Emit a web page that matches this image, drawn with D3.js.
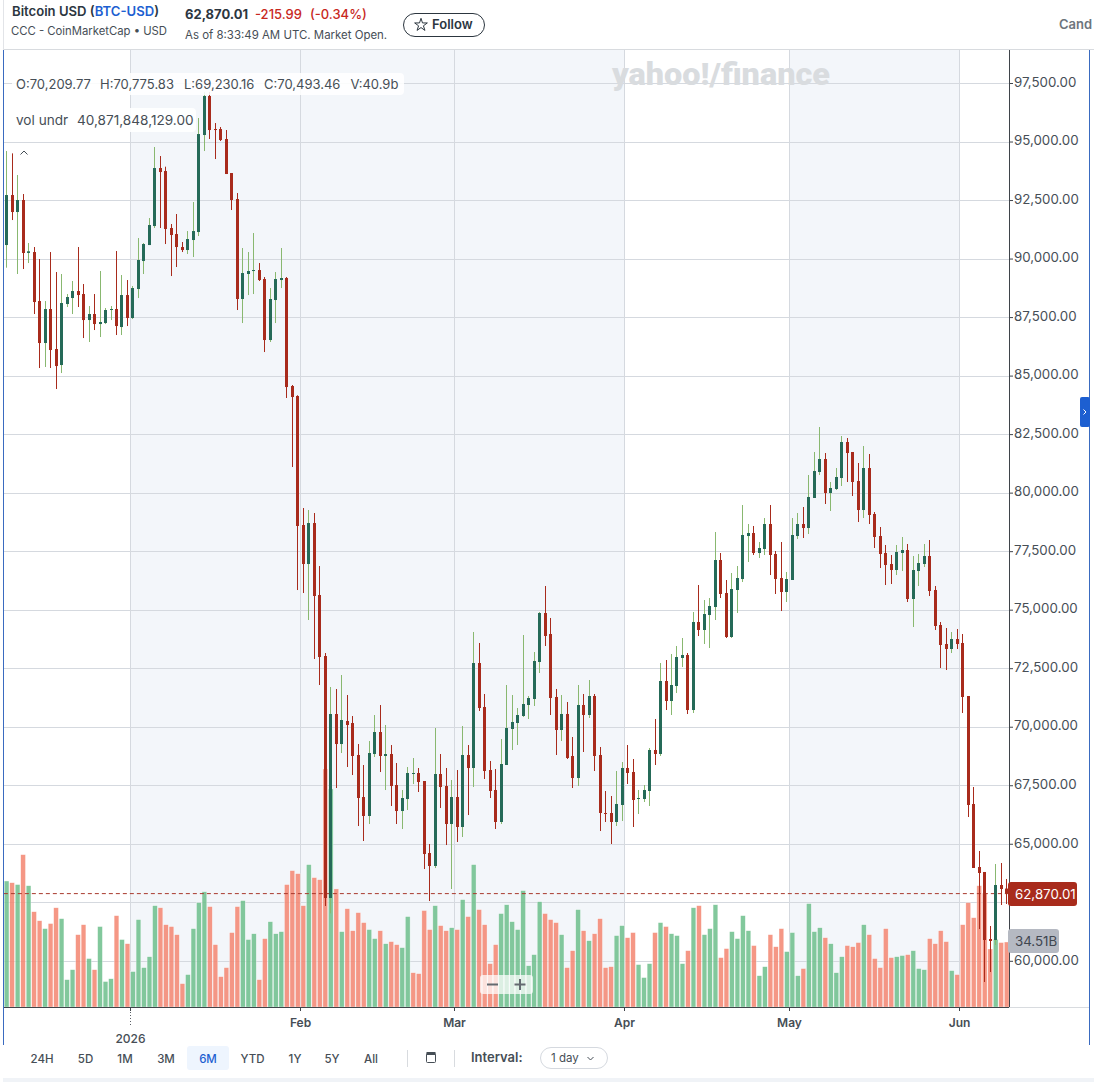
<!DOCTYPE html>
<html>
<head>
<meta charset="utf-8">
<title>Bitcoin USD (BTC-USD)</title>
<script src="https://cdn.jsdelivr.net/npm/d3@7"></script>
<style>
  html, body { margin: 0; padding: 0; background: #fff; }
  svg { display: block; }
  text { font-family: Inter, "Noto Sans", sans-serif; }
</style>
</head>
<body>
<div id="chart"></div>
<script>
// Daily BTC-USD sessions, 9 Dec 2025 to 9 Jun 2026. Prices in USD, volume in billions.
const startDay = "2025-12-09";
const endDay = "2026-06-10";

const opens = [
  90578,92714,91988,92501,90240,90279,88186,86392,87844,86136,
  85452,88058,88314,88613,88485,87374,87631,87203,87246,87816,
  87845,87075,88442,87460,88699,89895,90578,91390,93868,93740,
  91305,91048,90493,90365,90792,91134,95278,96944,95534,95534,
  95107,93654,92544,88272,89340,89468,89510,89126,86520,88229,
  89083,89169,84555,84128,78617,76951,78702,75627,73021,62683,
  70543,69261,70244,70158,68792,66997,66186,68834,69774,68749,
  68834,67510,66399,66912,67980,68023,67681,64605,64050,67980,
  67467,65844,66997,65716,68792,68236,72722,70843,68151,67297,
  65930,68365,69903,70159,70458,70928,71184,72765,74858,73961,
  71270,69860,70544,68749,67809,70928,70501,71312,68792,66314,
  66314,65930,66656,68237,68066,66912,66912,67254,69006,68835,
  71953,71099,71739,72936,73064,70714,74474,74132,74772,75114,
  77122,75712,73833,75841,76310,78147,78276,77421,77592,78660,
  77379,76353,75755,76268,78147,78660,78489,79771,80882,81437,
  79984,80155,80625,82163,81736,80497,79258,81052,79087,78147,
  77421,76951,76695,77421,77549,75456,76652,76951,77293,75841,
  74345,73534,73320,73747,73576,71312,66698,64007,63794,60931,
  60889,63238,63086
];
const closes = [
  92714,91988,92501,90237,90310,88143,86392,87844,86093,85409,
  88101,88357,88613,88442,87374,87631,87203,87289,87802,87845,
  87118,88442,87460,88741,89938,90621,91433,93868,93697,91262,
  91006,90493,90365,90835,91176,95320,96944,95491,95491,95064,
  93612,92501,88272,89382,89468,89510,89083,86520,88272,89126,
  89169,84512,84085,78575,76951,78702,75584,72978,62683,70543,
  69261,70287,70073,68749,66955,66186,68877,69774,68749,68834,
  67467,66399,66954,68023,68023,67638,64562,64050,67980,67424,
  65844,66997,65716,68792,68236,72722,70800,68108,67254,65930,
  68407,69945,70202,70501,70971,71227,72808,74858,73876,71227,
  69860,70544,68664,67809,70928,70501,71312,68749,66314,66272,
  65930,66699,68237,68023,66870,66955,67297,69006,68835,71953,
  71099,71782,72978,73064,70714,74474,74132,74815,75157,77122,
  75670,73833,75883,76353,78190,78276,77421,77635,78660,77336,
  76310,75755,76310,78190,78660,78489,79814,80924,81437,79984,
  80198,80668,82163,81693,80454,79258,81052,79045,78105,77379,
  76909,76695,77464,77549,75456,76695,76994,77293,75798,74303,
  73491,73320,73747,73534,71270,66656,63965,63751,60889,60846,
  63238,63068,62870.01
];
const highs = [
  94594,94494,93569,92757,90664,90493,89980,88186,90279,89425,
  89340,88485,89041,90493,88912,87972,88485,89468,87887,87972,
  90322,89297,89083,88827,90877,90664,91732,94765,94380,93925,
  91476,91903,90707,91176,92415,96004,97120,97120,95790,95619,
  95491,93654,92800,90450,90279,91091,89809,89211,88741,89425,
  90450,89211,84598,84160,79343,79258,79130,76865,73149,71696,
  71611,72209,71355,70457,69261,68364,69390,70500,70927,70073,
  69218,68450,67296,68279,68663,68236,67681,64989,69945,68834,
  68236,67724,68150,70030,69218,74047,73577,71398,68536,68194,
  69475,71782,71355,70800,73918,71312,73192,74901,76012,74645,
  71612,71355,71056,69561,71782,71398,71996,71398,69134,67254,
  67040,68108,68493,69219,68621,67297,67510,69091,70330,72722,
  72850,73106,73449,73790,73149,74901,76054,75413,75499,78318,
  77421,76268,76567,76866,79472,78660,78575,77891,78916,79472,
  77507,77891,76610,78916,79130,79386,80753,81736,82804,81693,
  80454,81052,82419,82334,81736,81266,81992,81650,79173,78532,
  77763,77336,77763,78105,77806,77293,77379,77806,77977,76012,
  74474,74217,74046,74174,73961,71312,67425,64691,63794,61487,
  64135,64178,63495
];
const lows = [
  89610,91646,89340,89553,89809,87631,85324,85367,85324,84427,
  85110,87930,87631,87930,86605,86435,86947,86648,87203,87374,
  86734,86734,87118,87417,88314,89340,90578,91305,91305,90621,
  89254,89639,90279,90194,90066,90963,94594,95107,94252,95021,
  93612,92074,87802,87246,88442,88485,89041,86007,86435,87246,
  88741,84043,81095,75840,75712,74559,72893,71782,62341,62027,
  67382,68877,68279,67937,65758,65118,65844,68706,68065,67296,
  66613,65844,65630,66442,67552,67211,63921,62554,63964,66527,
  64946,63067,65075,65289,66228,67425,70672,67767,66955,65631,
  65844,68365,69006,69219,70415,70330,70885,72295,73448,70501,
  68792,69390,68621,67382,67468,68920,70373,68108,65545,65930,
  64990,65759,65972,67553,65716,66272,66784,66613,68365,68750,
  70714,70501,71440,72551,70543,70586,73875,73534,73363,74559,
  75499,73790,73790,74858,76182,77037,77336,77208,77336,76481,
  75670,74943,75328,76268,78019,78062,78233,79771,80753,79515,
  79216,80113,80284,80454,79856,78745,78916,78660,77635,76780,
  76054,76097,76481,76652,75328,74260,76012,76823,75584,74132,
  72509,72423,73149,73320,70586,66143,63965,61358,59095,59521,
  60675,62384,62427
];
const volumes = [
  66.9,66.0,65.0,80.9,64.4,50.6,45.8,41.6,44.3,52.7,
  46.9,14.5,19.8,38.4,43.7,25.7,19.8,42.7,13.5,15.0,
  48.5,35.8,33.6,18.8,46.4,20.9,26.7,53.8,52.7,43.7,
  42.7,38.4,12.4,17.2,41.6,55.4,61.2,53.3,33.1,16.1,
  20.9,39.5,53.3,56.5,35.8,38.9,14.5,36.3,45.3,38.9,
  40.0,65.0,72.4,70.8,53.8,75.6,68.7,67.6,126.4,115.8,
  62.7,40.0,52.2,40.5,50.1,44.8,41.1,36.3,40.5,33.6,
  34.7,33.1,31.5,48.0,18.2,17.7,51.2,41.1,53.8,43.2,
  40.5,42.1,41.1,57.0,48.0,75.6,51.7,43.7,23.0,33.1,
  49.6,54.3,45.3,41.1,61.8,21.9,27.8,55.9,49.6,46.4,
  44.8,38.4,20.9,29.9,51.7,40.5,35.2,38.9,46.9,20.9,
  21.4,37.9,43.2,36.8,39.5,22.5,15.6,23.0,39.5,44.8,
  42.7,38.9,37.9,23.0,29.9,52.7,53.8,38.4,41.6,54.3,
  26.2,31.0,40.0,36.3,48.5,40.5,32.6,16.6,21.4,38.4,
  32.0,41.6,29.4,39.5,16.6,20.4,54.9,40.0,42.1,36.8,
  33.6,18.2,26.7,32.6,32.0,34.2,43.7,38.4,25.7,20.9,
  41.6,26.2,26.7,27.3,27.8,29.9,20.4,19.8,36.3,33.6,
  40.5,34.7,19.3,17.2,43.7,55.4,47.4,64.4,60.5,30.8,
  35.9,34.2,34.51
];
// Session whose volume bar prints down although its candle closed flat-to-up.
const downVolumeSessions = [74];

const priceTicks = d3.range(60000, 97501, 2500);
// The 62,500 tick sits under the last-price tag, so its text is left out.
const priceTickHidden = [62500];
const monthTicks = ["2026-01-01", "2026-02-01", "2026-03-01", "2026-04-01", "2026-05-01", "2026-06-01"];
const monthLabels = ["", "Feb", "Mar", "Apr", "May", "Jun"];
const shadedRanges = [["2026-01-01", "2026-04-01"], ["2026-05-01", "2026-06-01"]];
const rangeButtons = ["24H", "5D", "1M", "3M", "6M", "YTD", "1Y", "5Y", "All"];
const rangeButtonX = [42, 85.5, 125, 166, 208, 252.5, 295, 332, 371];

const lastPrice = closes[closes.length - 1];
const lastVolume = volumes[volumes.length - 1];
const fmt2 = d3.format(",.2f");

const W = 1094, H = 1082;
const plot = { left: 3.85, right: 1009.44, top: 50, bottom: 1007 };
const INK = "#464e56", GRID = "#d5d9df", RED = "#a82b1c", GREEN = "#256a58", WICK_UP = "#89b870";

const x = d3.scaleUtc()
  .domain([new Date(startDay), new Date(endDay)])
  .range([plot.left, plot.right]);
const y = d3.scaleLinear().domain([60000, 97500]).range([960.8, 83]);
const vol = d3.scaleLinear().domain([0, 126.4]).range([plot.bottom, 769]);

const days = d3.utcDay.range(new Date(startDay), new Date(endDay));
const candles = days.map((date, i) => ({
  i, date,
  open: opens[i], high: highs[i], low: lows[i], close: closes[i], volume: volumes[i],
  mid: x(d3.utcHour.offset(date, 12))
}));

const svg = d3.select("#chart").append("svg").attr("width", W).attr("height", H);
const snap = v => Math.round(v) + 0.5;
const monthX = d => Math.floor(x(new Date(d))) + 0.5;

function label(parent, txt, px, py, o = {}) {
  return parent.append("text").attr("x", px).attr("y", py)
    .attr("font-size", o.size || 12)
    .attr("font-weight", o.weight || 400)
    .attr("fill", o.fill || INK)
    .attr("text-anchor", o.anchor || "start")
    .text(txt);
}

// ---- plot background ----
const bg = svg.append("g");
bg.selectAll("rect.band").data(shadedRanges).join("rect")
  .attr("class", "band")
  .attr("x", d => monthX(d[0]))
  .attr("width", d => monthX(d[1]) - monthX(d[0]))
  .attr("y", plot.top).attr("height", plot.bottom - plot.top)
  .attr("fill", "#f3f6fa");

bg.selectAll("line.h").data(priceTicks).join("line")
  .attr("class", "h")
  .attr("x1", plot.left).attr("x2", plot.right)
  .attr("y1", d => snap(y(d))).attr("y2", d => snap(y(d)))
  .attr("stroke", GRID);
bg.selectAll("line.v").data(monthTicks).join("line")
  .attr("class", "v")
  .attr("x1", monthX).attr("x2", monthX)
  .attr("y1", plot.top).attr("y2", plot.bottom)
  .attr("stroke", GRID);

// ---- watermark ----
svg.append("text").attr("x", 612).attr("y", 85)
  .attr("font-size", 31).attr("font-weight", 900)
  .attr("textLength", 218).attr("lengthAdjust", "spacingAndGlyphs")
  .attr("fill", "#d9dcdf")
  .style("font-family", "Roboto, Inter, sans-serif")
  .text("yahoo!/finance");

// ---- volume bars ----
svg.append("g").selectAll("rect").data(candles).join("rect")
  .attr("x", d => d.mid - 2.35)
  .attr("width", 4.7)
  .attr("y", d => vol(d.volume))
  .attr("height", d => vol(0) - vol(d.volume))
  .attr("fill", d => (d.close >= d.open && !downVolumeSessions.includes(d.i)) ? "#6fc08d" : "#f38873")
  .attr("fill-opacity", 0.87)
  .attr("stroke", "#fff").attr("stroke-width", 0.5).attr("stroke-opacity", 0.6);

// ---- last price line ----
svg.append("line")
  .attr("x1", plot.left).attr("x2", plot.right)
  .attr("y1", y(lastPrice)).attr("y2", y(lastPrice))
  .attr("stroke", "#a8392c").attr("stroke-width", 1).attr("stroke-dasharray", "4 3");

// ---- candlesticks ----
const candleG = svg.append("g").selectAll("g").data(candles).join("g");
candleG.append("rect")
  .attr("x", d => Math.floor(d.mid))
  .attr("width", 1)
  .attr("y", d => y(d.high))
  .attr("height", d => y(d.low) - y(d.high))
  .attr("fill", d => d.close >= d.open ? WICK_UP : RED);
candleG.append("rect")
  .attr("x", d => Math.floor(d.mid) - 1)
  .attr("width", 3)
  .attr("y", d => y(Math.max(d.open, d.close)))
  .attr("height", d => Math.max(1, Math.abs(y(d.open) - y(d.close))))
  .attr("fill", d => d.close >= d.open ? GREEN : RED);

// ---- axes ----
const yAxis = d3.axisRight(y).tickValues(priceTicks).tickSize(4).tickPadding(1)
  .tickFormat(d => priceTickHidden.includes(d) ? "" : fmt2(d));
const yG = svg.append("g").attr("transform", `translate(${Math.round(plot.right)},0)`).call(yAxis);
yG.select(".domain").attr("d", `M0.5,${plot.top}V${plot.bottom + 0.5}`).attr("stroke", "#3f444a");
yG.selectAll(".tick line").attr("stroke", "#3f444a");
yG.selectAll(".tick text").attr("fill", INK).attr("font-size", 13.3).attr("y", -1)
  .attr("font-family", "Inter, sans-serif");

const xAxis = d3.axisBottom(x)
  .tickValues(monthTicks.map(d => new Date(d)))
  .tickSize(4).tickPadding(7)
  .tickFormat((d, i) => monthLabels[i]);
const xG = svg.append("g").attr("transform", `translate(0,${plot.bottom})`).call(xAxis);
xG.select(".domain").attr("d", `M${plot.left},0.5H${plot.right}`).attr("stroke", "#3f444a");
xG.selectAll(".tick").attr("transform", (d, i) => `translate(${monthX(monthTicks[i])},0)`);
xG.selectAll(".tick line").attr("stroke", "#3f444a");
xG.selectAll(".tick text").attr("fill", INK).attr("font-size", 12).attr("font-weight", 600)
  .attr("font-family", "Inter, sans-serif");

// Year marker hangs below the January tick on a dotted leader.
const janX = monthX(monthTicks[0]);
svg.append("line").attr("x1", janX).attr("x2", janX).attr("y1", 1012).attr("y2", 1027)
  .attr("stroke", "#5b6168").attr("stroke-dasharray", "1 2");
label(svg, "2026", janX, 1043, { anchor: "middle", size: 12, weight: 500 });

// ---- frame ----
svg.append("line").attr("x1", 3).attr("x2", W).attr("y1", 49.5).attr("y2", 49.5).attr("stroke", "#d8dbdf");
svg.append("line").attr("x1", 3.5).attr("x2", 3.5).attr("y1", 0).attr("y2", 50).attr("stroke", "#e2e4e8");
svg.append("line").attr("x1", 3.5).attr("x2", 3.5).attr("y1", 50).attr("y2", 1045).attr("stroke", "#3a6bc0");
svg.append("line").attr("x1", 1089.5).attr("x2", 1089.5).attr("y1", 50).attr("y2", 1045).attr("stroke", "#3a6bc0");
svg.append("line").attr("x1", 1009).attr("x2", 1089).attr("y1", 1007.5).attr("y2", 1007.5).attr("stroke", "#d8dbdf");

// Collapse tab on the right edge.
svg.append("rect").attr("x", 1080).attr("y", 397).attr("width", 10).attr("height", 30).attr("rx", 2).attr("fill", "#1d5fd1");
svg.append("path").attr("d", "M1083.5,409.5l2.5,2.5l-2.5,2.5").attr("fill", "none").attr("stroke", "#fff");

// ---- last value tags ----
svg.append("rect").attr("x", 1008).attr("y", 882).attr("width", 69).attr("height", 24).attr("rx", 3).attr("fill", RED);
label(svg, fmt2(lastPrice), 1015, 898.5, { fill: "#fff", size: 13.3 });
svg.append("rect").attr("x", 1008).attr("y", 929).attr("width", 51).attr("height", 24).attr("rx", 3).attr("fill", "#b5b9c2");
label(svg, d3.format(".2f")(lastVolume) + "B", 1015, 945.5, { size: 13.3, fill: "#3f4650" });

// ---- hover read-out ----
svg.append("rect").attr("x", 12).attr("y", 73).attr("width", 392).attr("height", 22).attr("rx", 4).attr("fill", "#fff").attr("fill-opacity", 0.88);
svg.append("rect").attr("x", 12).attr("y", 108).attr("width", 184).attr("height", 24).attr("rx", 4).attr("fill", "#fff").attr("fill-opacity", 0.92);
label(svg, "O:70,209.77", 16, 88.5, { size: 13 });
label(svg, "H:70,775.83", 100, 88.5, { size: 13 });
label(svg, "L:69,230.16", 184, 88.5, { size: 13 });
label(svg, "C:70,493.46", 264, 88.5, { size: 13 });
label(svg, "V:40.9b", 350.5, 88.5, { size: 13 });
label(svg, "vol undr", 16, 125, { size: 13.6 });
label(svg, "40,871,848,129.00", 77, 125, { size: 13.6 });
svg.append("path").attr("d", "M20.5,154.5l3.5,-3.5l3.5,3.5").attr("fill", "none").attr("stroke", INK);

// ---- zoom control ----
svg.append("rect").attr("x", 480).attr("y", 975).attr("width", 53).attr("height", 19).attr("rx", 3)
  .attr("fill", "#fff").attr("fill-opacity", 0.72);
svg.append("path").attr("d", "M487,984.5h11M514.5,984.5h11M520,979v11")
  .attr("fill", "none").attr("stroke", "#646a70").attr("stroke-width", 2);

// ---- quote header ----
const head = svg.append("g");
const title = label(head, "Bitcoin USD (", 12, 15.5, { size: 13.1, weight: 600, fill: "#2c363f" });
title.append("tspan").attr("fill", "#1d5fd1").text("BTC-USD");
title.append("tspan").text(")");
label(head, "CCC - CoinMarketCap • USD", 11, 35, { size: 11.3 });
label(head, "62,870.01", 185, 19, { size: 13, weight: 700, fill: "#2c363f" });
label(head, "-215.99", 255, 19, { size: 13, weight: 500, fill: "#c8281e" });
label(head, "(-0.34%)", 310, 19, { size: 13, weight: 500, fill: "#c8281e" });
label(head, "As of 8:33:49 AM UTC. Market Open.", 185, 39, { size: 11.45 });
head.append("rect").attr("x", 403.5).attr("y", 13.5).attr("width", 81).attr("height", 23).attr("rx", 11.5)
  .attr("fill", "#fff").attr("stroke", "#2c363f");
head.append("path").attr("transform", "translate(421,25)")
  .attr("d", d3.symbol(d3.symbolStar, 50)())
  .attr("fill", "none").attr("stroke", "#2c363f");
label(head, "Follow", 432, 29, { size: 13, weight: 600, fill: "#2c363f" });
label(head, "Cand", 1059, 29, { size: 13, weight: 600, fill: "#6d757d" });

// ---- range selector ----
const foot = svg.append("g");
foot.append("rect").attr("x", 187).attr("y", 1046).attr("width", 42).attr("height", 24).attr("rx", 3).attr("fill", "#eef5fe");
foot.selectAll("text.range").data(rangeButtons).join("text")
  .attr("class", "range")
  .attr("x", (d, i) => rangeButtonX[i]).attr("y", 1063)
  .attr("text-anchor", "middle").attr("font-size", 11.5).attr("font-weight", 500)
  .attr("fill", d => d === "6M" ? "#1d5fd1" : INK)
  .text(d => d);
foot.append("line").attr("x1", 407.5).attr("x2", 407.5).attr("y1", 1050).attr("y2", 1067).attr("stroke", "#d8dbdf");
foot.append("line").attr("x1", 454.5).attr("x2", 454.5).attr("y1", 1050).attr("y2", 1067).attr("stroke", "#d8dbdf");
foot.append("rect").attr("x", 426.5).attr("y", 1053.5).attr("width", 9).attr("height", 9).attr("rx", 1)
  .attr("fill", "none").attr("stroke", INK);
foot.append("rect").attr("x", 426.5).attr("y", 1052).attr("width", 9).attr("height", 3).attr("fill", INK);
label(foot, "Interval:", 471, 1062, { size: 13, weight: 600 });
foot.append("rect").attr("x", 540.5).attr("y", 1047.5).attr("width", 67).attr("height", 21).attr("rx", 10.5)
  .attr("fill", "#fff").attr("stroke", "#d5d9df");
label(foot, "1 day", 551, 1062, { size: 11.5 });
foot.append("path").attr("d", "M587.5,1057l3,3l3,-3").attr("fill", "none").attr("stroke", INK);
foot.append("rect").attr("x", 3).attr("y", 1078).attr("width", W - 3).attr("height", 4).attr("fill", "#f0f3f7");
</script>
</body>
</html>
